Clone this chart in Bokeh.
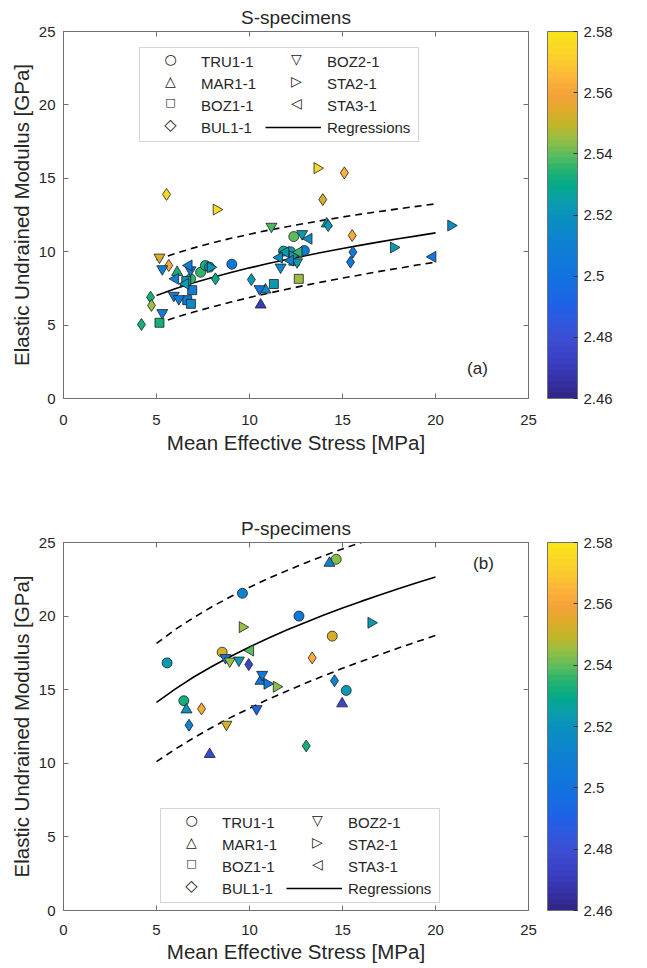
import math
from bokeh.plotting import figure
from bokeh.layouts import column
from bokeh.models import (ColumnDataSource, LinearColorMapper, ColorBar, FixedTicker, BoxAnnotation,
                          Legend, LegendItem, LinearAxis, Label, CustomJSTickFormatter, Range1d)
from bokeh.transform import linear_cmap
from bokeh.embed import file_html
from bokeh.resources import INLINE

FONT = "Liberation Sans"
TXT = "#262626"
FRAME = "#707070"

# ---------------- data ----------------
SERIES = ["TRU1-1", "MAR1-1", "BOZ1-1", "BUL1-1", "BOZ2-1", "STA2-1", "STA3-1"]
AXIS_TICKS = [0, 5, 10, 15, 20, 25]
CB_TICKS = [2.46, 2.48, 2.50, 2.52, 2.54, 2.56, 2.58]
CB_LOW, CB_HIGH = 2.46, 2.58

# S-specimens (panel a)
S_series = (["TRU1-1"] * 9 + ["MAR1-1"] * 6 + ["BOZ1-1"] * 7 + ["BUL1-1"] * 13 +
            ["BOZ2-1"] * 11 + ["STA2-1"] * 6 + ["STA3-1"] * 9)
S_stress = [9.05, 7.37, 7.63, 6.83, 12.38, 11.83, 12.20, 12.95, 7.85,
            6.11, 10.60, 10.86, 14.15, 6.55, 12.40,
            5.16, 6.65, 6.85, 6.92, 11.31, 12.65, 6.60,
            5.54, 13.94, 15.10, 14.23, 15.52, 15.56, 15.43, 10.10, 8.17, 4.68, 4.73, 4.19, 5.66,
            5.16, 5.31, 6.83, 5.31, 5.93, 6.20, 11.18, 12.83, 10.54, 11.67, 12.56,
            8.22, 13.64, 20.83, 17.75, 7.90, 12.30,
            19.85, 13.19, 6.74, 6.02, 6.56, 11.94, 12.65, 12.20, 11.60]
S_modulus = [9.15, 8.60, 9.06, 8.15, 11.03, 10.04, 10.00, 10.08, 8.95,
             8.60, 6.38, 7.40, 11.90, 7.85, 9.30,
             5.16, 6.70, 6.45, 7.38, 7.80, 8.15, 8.00,
             13.90, 13.55, 15.37, 11.78, 11.10, 9.97, 9.29, 8.10, 8.15, 6.90, 6.34, 5.04, 9.06,
             9.62, 8.83, 8.75, 5.84, 7.02, 6.79, 11.72, 11.22, 7.47, 8.94, 9.30,
             12.87, 15.69, 11.78, 10.29, 8.94, 9.70,
             9.65, 10.88, 9.06, 8.15, 7.81, 9.97, 9.97, 9.40, 9.60]
S_density = [2.505, 2.535, 2.532, 2.535, 2.540, 2.530, 2.522, 2.508, 2.515,
             2.532, 2.470, 2.515, 2.522, 2.522, 2.528,
             2.532, 2.508, 2.515, 2.510, 2.522, 2.545, 2.522,
             2.575, 2.552, 2.565, 2.522, 2.562, 2.505, 2.505, 2.522, 2.530, 2.532, 2.545, 2.532, 2.562,
             2.553, 2.510, 2.505, 2.508, 2.508, 2.508, 2.538, 2.522, 2.505, 2.515, 2.525,
             2.575, 2.575, 2.518, 2.522, 2.522, 2.525,
             2.505, 2.518, 2.508, 2.510, 2.522, 2.522, 2.535, 2.510, 2.518]
REG_X = [5, 6, 7, 8, 9, 10, 11, 12, 13, 14, 15, 16, 17, 18, 19, 20]
S_reg_mid = [7.02, 7.47, 7.88, 8.24, 8.58, 8.90, 9.19, 9.47, 9.73, 9.98,
             10.22, 10.45, 10.67, 10.88, 11.08, 11.28]
S_reg_hi = [9.45, 9.88, 10.26, 10.60, 10.91, 11.19, 11.46, 11.70, 11.93, 12.15,
            12.36, 12.56, 12.74, 12.92, 13.09, 13.26]
S_reg_lo = [5.09, 5.51, 5.89, 6.24, 6.57, 6.88, 7.17, 7.44, 7.71, 7.96,
            8.20, 8.43, 8.66, 8.87, 9.09, 9.29]

# P-specimens (panel b)
P_series = (["TRU1-1"] * 8 + ["MAR1-1"] * 5 + ["BUL1-1"] * 6 +
            ["BOZ2-1"] * 6 + ["STA2-1"] * 4 + ["STA3-1"] * 1)
P_stress = [5.57, 14.66, 9.62, 12.66, 14.45, 8.53, 15.20, 6.47,
            14.30, 10.59, 14.98, 6.61, 7.86,
            9.96, 13.37, 7.42, 14.57, 6.75, 13.05,
            8.71, 8.94, 9.43, 10.68, 10.38, 8.76,
            16.54, 9.62, 10.95, 11.45,
            10.05]
P_modulus = [16.82, 23.86, 21.55, 20.00, 18.64, 17.55, 14.95, 14.25,
             23.60, 15.58, 14.05, 13.64, 10.61,
             16.71, 17.16, 13.70, 15.61, 12.59, 11.18,
             17.17, 16.94, 17.00, 16.03, 13.70, 12.64,
             19.55, 19.25, 15.40, 15.20,
             17.66]
P_density = [2.522, 2.543, 2.512, 2.505, 2.553, 2.553, 2.522, 2.532,
             2.512, 2.505, 2.475, 2.520, 2.478,
             2.475, 2.562, 2.562, 2.512, 2.512, 2.532,
             2.505, 2.545, 2.522, 2.505, 2.490, 2.552,
             2.522, 2.545, 2.505, 2.543,
             2.540]
P_reg_mid = [14.14, 15.04, 15.86, 16.59, 17.27, 17.90, 18.49, 19.05, 19.57, 20.07,
             20.55, 21.00, 21.44, 21.86, 22.27, 22.66]
P_reg_hi = [18.14, 19.08, 19.90, 20.65, 21.33, 21.96, 22.55, 23.09, 23.61, 24.10,
            24.56, 25.00, 25.42, 25.83, 26.21, 26.59]
P_reg_lo = [10.11, 10.96, 11.73, 12.45, 13.12, 13.74, 14.34, 14.90, 15.44, 15.95,
            16.45, 16.92, 17.38, 17.83, 18.26, 18.68]

# ---------------- styles ----------------
MARKERS = {"TRU1-1": ("circle", 10, 0.0), "MAR1-1": ("triangle", 11, 0.0),
           "BOZ1-1": ("square", 9, 0.0), "BUL1-1": ("diamond", 12, 0.0),
           "BOZ2-1": ("inverted_triangle", 11, 0.0), "STA2-1": ("triangle", 11, -math.pi / 2),
           "STA3-1": ("triangle", 11, math.pi / 2)}
LEGEND_SYMBOLS = {"TRU1-1": ("\u25CB", "14px"), "MAR1-1": ("\u25B3", "14px"),
                  "BOZ1-1": ("\u25A1", "11px"), "BUL1-1": ("\u25C7", "16px"),
                  "BOZ2-1": ("\u25BD", "14px"), "STA2-1": ("\u25B7", "14px"),
                  "STA3-1": ("\u25C1", "14px")}

PAL_ANCHORS = [(0.000, "#31268a"), (0.083, "#3a3bbd"), (0.167, "#3b50d6"), (0.250, "#1f62e6"),
               (0.333, "#1172e0"), (0.417, "#0e80d2"), (0.500, "#0a92bd"), (0.542, "#0a9eaa"),
               (0.583, "#05aa88"), (0.625, "#25b370"), (0.667, "#5cbc5c"), (0.708, "#94be45"),
               (0.750, "#c4b528"), (0.792, "#e0aa2a"), (0.833, "#f6a23a"), (0.875, "#fbb23a"),
               (0.917, "#fac830"), (1.000, "#f9e31c")]


def _hex(h):
    return tuple(int(h[i:i + 2], 16) for i in (1, 3, 5))


def make_palette(n=64):
    out = []
    for k in range(n):
        t = k / (n - 1)
        for (f0, c0), (f1, c1) in zip(PAL_ANCHORS[:-1], PAL_ANCHORS[1:]):
            if f0 <= t <= f1:
                u = (t - f0) / (f1 - f0) if f1 > f0 else 0
                a, b = _hex(c0), _hex(c1)
                out.append("#%02x%02x%02x" % tuple(int(round(a[i] + (b[i] - a[i]) * u)) for i in range(3)))
                break
    return out


PALETTE = make_palette()
EMPTY_FMT = "return '';"

# legend geometry (screen px)
LG_PAD, LG_GW, LG_GH, LG_STAND, LG_LW, LG_SP = 3, 56, 22, 6, 64, 0
LG_BOX_W = 279
LG_LIFT = 3


def style_axis(ax, show_labels=True):
    ax.ticker = FixedTicker(ticks=AXIS_TICKS)
    ax.major_tick_in = 5
    ax.major_tick_out = 0
    ax.minor_tick_line_color = None
    ax.axis_line_color = FRAME
    ax.major_tick_line_color = FRAME
    if show_labels:
        ax.major_label_text_font = FONT
        ax.major_label_text_font_size = "15px"
        ax.major_label_text_color = TXT
        ax.axis_label_text_font = FONT
        ax.axis_label_text_font_size = "20.5px"
        ax.axis_label_text_font_style = "normal"
        ax.axis_label_text_color = TXT
    else:
        ax.formatter = CustomJSTickFormatter(code=EMPTY_FMT)
        ax.major_label_text_font_size = "1px"
        ax.major_label_standoff = 0
        ax.axis_label = None


def make_panel(title, ser, xs, ys, ds, rmid, rhi, rlo, legend_loc, tag, tag_xy,
               top_b, bot_b, fh, tick_so, lab_so):
    p = figure(frame_width=465, frame_height=fh, x_range=Range1d(0, 25), y_range=Range1d(0, 25),
               output_backend="svg", toolbar_location=None, title=title,
               min_border_left=63, min_border_right=119, min_border_top=top_b, min_border_bottom=bot_b)
    p.background_fill_color = "white"
    p.border_fill_color = "white"
    p.outline_line_color = FRAME
    p.grid.visible = False
    p.title.align = "center"
    p.title.text_font = FONT
    p.title.text_font_size = "19px"
    p.title.text_font_style = "normal"
    p.title.text_color = TXT
    p.title.standoff = 8

    p.xaxis.axis_label = "Mean Effective Stress [MPa]"
    p.yaxis.axis_label = "Elastic Undrained Modulus [GPa]"
    style_axis(p.xaxis[0])
    style_axis(p.yaxis[0])
    p.xaxis.major_label_standoff = tick_so
    p.xaxis.axis_label_standoff = lab_so
    p.yaxis.major_label_standoff = 8
    p.yaxis.axis_label_standoff = 3

    top_ax = LinearAxis()
    style_axis(top_ax, False)
    p.add_layout(top_ax, "above")
    right_ax = LinearAxis()
    style_axis(right_ax, False)
    p.add_layout(right_ax, "right")

    # regressions
    reg = p.line(REG_X, rmid, line_color="black", line_width=1.6)
    p.line(REG_X, rhi, line_color="black", line_width=1.6, line_dash="7 5")
    p.line(REG_X, rlo, line_color="black", line_width=1.6, line_dash="7 5")

    # scatter points per series
    for name in SERIES:
        idx = [i for i, s in enumerate(ser) if s == name]
        if not idx:
            continue
        src = ColumnDataSource(dict(x=[xs[i] for i in idx], y=[ys[i] for i in idx],
                                    d=[ds[i] for i in idx]))
        mk, sz, ang = MARKERS[name]
        p.scatter("x", "y", source=src, marker=mk, size=sz, angle=ang,
                  fill_color=linear_cmap("d", PALETTE, CB_LOW, CB_HIGH),
                  line_color="#202020", line_width=0.8)

    # legend: box, entries with invisible proxies, open symbols drawn as text on top
    lg_h = 2 * LG_PAD + 4 * LG_GH + 3 * LG_SP
    p.add_layout(BoxAnnotation(left=legend_loc[0], right=legend_loc[0] + LG_BOX_W,
                               bottom=legend_loc[1], top=legend_loc[1] + lg_h,
                               left_units="screen", right_units="screen",
                               top_units="screen", bottom_units="screen",
                               fill_color="white", fill_alpha=1.0,
                               line_color=FRAME, line_width=1, level="annotation"))
    items = []
    for name in SERIES:
        r = p.line(x=[float("nan")], y=[float("nan")], line_alpha=0)
        items.append(LegendItem(label=name, renderers=[r]))
    items.append(LegendItem(label="Regressions", renderers=[reg]))
    leg_xy = (legend_loc[0], legend_loc[1] + LG_LIFT)
    leg = Legend(items=items, location=leg_xy, nrows=4, orientation="vertical",
                 glyph_width=LG_GW, glyph_height=LG_GH, label_standoff=LG_STAND,
                 label_width=LG_LW, spacing=LG_SP, padding=LG_PAD, margin=0,
                 label_text_font=FONT, label_text_font_size="15px", label_text_color=TXT,
                 border_line_color=None, background_fill_alpha=0.0, level="overlay")
    p.add_layout(leg, "center")
    col_cx = [LG_PAD + LG_GW / 2,
              LG_PAD + LG_GW + LG_STAND + LG_LW + LG_SP + LG_GW / 2]
    for k, name in enumerate(SERIES):
        col, row = divmod(k, 4)
        sym, fs = LEGEND_SYMBOLS[name]
        cy = leg_xy[1] + lg_h - (LG_PAD + row * (LG_GH + LG_SP) + LG_GH / 2)
        p.add_layout(Label(x=leg_xy[0] + col_cx[col], y=cy, x_units="screen", y_units="screen",
                           text=sym, text_align="center", text_baseline="middle",
                           text_font="DejaVu Sans", text_font_size=fs, text_color="#202020",
                           level="overlay"))

    # colour bar
    mapper = LinearColorMapper(palette=PALETTE, low=CB_LOW, high=CB_HIGH)
    cb = ColorBar(color_mapper=mapper, ticker=FixedTicker(ticks=CB_TICKS),
                  formatter=CustomJSTickFormatter(code="return Number(tick.toFixed(2)).toString();"),
                  width=30, padding=0, margin=0, label_standoff=6, location=(19, 0),
                  major_label_text_font=FONT, major_label_text_font_size="15px",
                  major_label_text_color=TXT, major_tick_line_color="#303030",
                  major_tick_in=4, major_tick_out=0, minor_tick_line_color=None,
                  bar_line_color=FRAME, border_line_color=None, background_fill_color=None)
    p.add_layout(cb, "right")

    p.add_layout(Label(x=572, y=41, x_units="screen", y_units="screen",
                       text="Bulk Density g/cm", angle=math.pi / 2, text_align="left",
                       text_baseline="alphabetic", text_font=FONT, text_font_size="23px",
                       text_color=TXT))
    p.add_layout(Label(x=567, y=238, x_units="screen", y_units="screen",
                       text="3", angle=math.pi / 2, text_align="left",
                       text_baseline="alphabetic", text_font=FONT, text_font_size="15px",
                       text_color=TXT))
    p.add_layout(Label(x=tag_xy[0], y=tag_xy[1], x_units="screen", y_units="screen",
                       text=tag, text_align="center", text_baseline="middle",
                       text_font=FONT, text_font_size="17px", text_color=TXT))
    return p


p1 = make_panel("S-specimens", S_series, S_stress, S_modulus, S_density,
                S_reg_mid, S_reg_hi, S_reg_lo, (76, 257), "(a)", (414, 30),
                31, 113, 367, 16, 3)
p2 = make_panel("P-specimens", P_series, P_stress, P_modulus, P_density,
                P_reg_mid, P_reg_hi, P_reg_lo, (97, 8), "(b)", (420, 347),
                31, 58, 368, 14, 2)

layout = column(p1, p2)
open("out.html", "w").write(file_html(layout, INLINE))
